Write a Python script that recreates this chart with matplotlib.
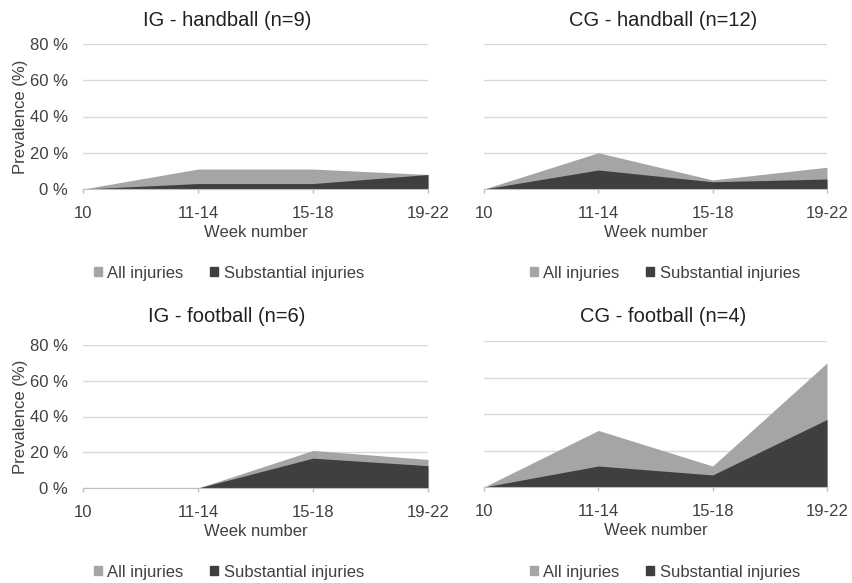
import numpy as np
import matplotlib
matplotlib.use("Agg")
import matplotlib.pyplot as plt
from matplotlib.patches import Patch
from matplotlib.ticker import FuncFormatter

plt.rcParams["font.family"] = ["Liberation Sans", "DejaVu Sans"]

WEEKS = ["10", "11-14", "15-18", "19-22"]

# prevalence (%) per period
ig_handball_all = [0, 11, 11, 8]
ig_handball_sub = [0, 3, 3, 8]
cg_handball_all = [0, 20, 5, 12]
cg_handball_sub = [0, 10.5, 4, 5.5]
ig_football_all = [0, 0, 21, 16]
ig_football_sub = [0, 0, 16.7, 12.5]
cg_football_all = [0, 31, 11.5, 68]
cg_football_sub = [0, 11.5, 6.6, 37]

TITLES = ["IG - handball (n=9)", "CG - handball (n=12)",
          "IG - football (n=6)", "CG - football (n=4)"]

ALL_COLOR = "#a5a5a5"
SUB_COLOR = "#3f3f3f"
TEXT_COLOR = "#404040"
GRID_COLOR = "#d9d9d9"
AXIS_COLOR = "#bfbfbf"

W, H = 853, 583
fig = plt.figure(figsize=(W / 100, H / 100), dpi=100)

# plot-area boxes in pixels: (left, right, top, bottom)
boxes = [(83, 428, 44, 189), (484, 827, 44, 189),
         (83, 428, 345, 488), (484, 827, 341, 487)]
# chart-area centres (x) and title / legend rows (y), pixels
center_x = [227, 663, 227, 663]
title_y = [20, 20, 317, 316]
legend_y = [273, 273, 572, 572]
legend_x = [229, 665, 229, 665]
panels = [(ig_handball_all, ig_handball_sub), (cg_handball_all, cg_handball_sub),
          (ig_football_all, ig_football_sub), (cg_football_all, cg_football_sub)]

x = np.arange(len(WEEKS))
for i, ((l, r, t, b), (all_v, sub_v)) in enumerate(zip(boxes, panels)):
    ax = fig.add_axes([l / W, 1 - b / H, (r - l) / W, (b - t) / H])
    ax.fill_between(x, 0, all_v, color=ALL_COLOR, linewidth=0, zorder=2)
    ax.fill_between(x, 0, sub_v, color=SUB_COLOR, linewidth=0, zorder=3)
    ax.set_xlim(0, len(WEEKS) - 1)
    ax.set_ylim(0, 80)
    ax.set_yticks([0, 20, 40, 60, 80])
    ax.yaxis.set_major_formatter(FuncFormatter(lambda v, p: f"{v:.0f} %"))
    ax.grid(axis="y", color=GRID_COLOR, linewidth=1, zorder=0)
    ax.set_axisbelow(True)
    for s in ["top", "right", "left"]:
        ax.spines[s].set_visible(False)
    ax.spines["bottom"].set_color(AXIS_COLOR)
    ax.spines["bottom"].set_zorder(4)
    ax.set_xticks(x)
    ax.set_xticklabels(WEEKS)
    ax.tick_params(labelsize=12, labelcolor=TEXT_COLOR)
    ax.tick_params(axis="x", length=3, width=1, color=AXIS_COLOR, pad=9)
    ax.tick_params(axis="y", length=0, pad=11)
    if i % 2 == 1:
        ax.set_yticklabels([])
    else:
        ax.set_ylabel("Prevalence (%)", fontsize=12, color=TEXT_COLOR, labelpad=1)
    ax.set_xlabel("Week number", fontsize=12, color=TEXT_COLOR, labelpad=3)
    fig.text(center_x[i] / W, 1 - title_y[i] / H, TITLES[i], fontsize=14.5,
             color="#202020", ha="center", va="center")

    handles = [Patch(color=ALL_COLOR, label="All injuries"),
               Patch(color=SUB_COLOR, label="Substantial injuries")]
    fig.legend(handles=handles, loc="center", ncol=2, frameon=False,
               bbox_to_anchor=(legend_x[i] / W, 1 - legend_y[i] / H),
               fontsize=12, labelcolor=TEXT_COLOR, handlelength=0.45,
               handleheight=0.45, handletextpad=0.35, columnspacing=1.6)

fig.savefig("out.png", dpi=100)
